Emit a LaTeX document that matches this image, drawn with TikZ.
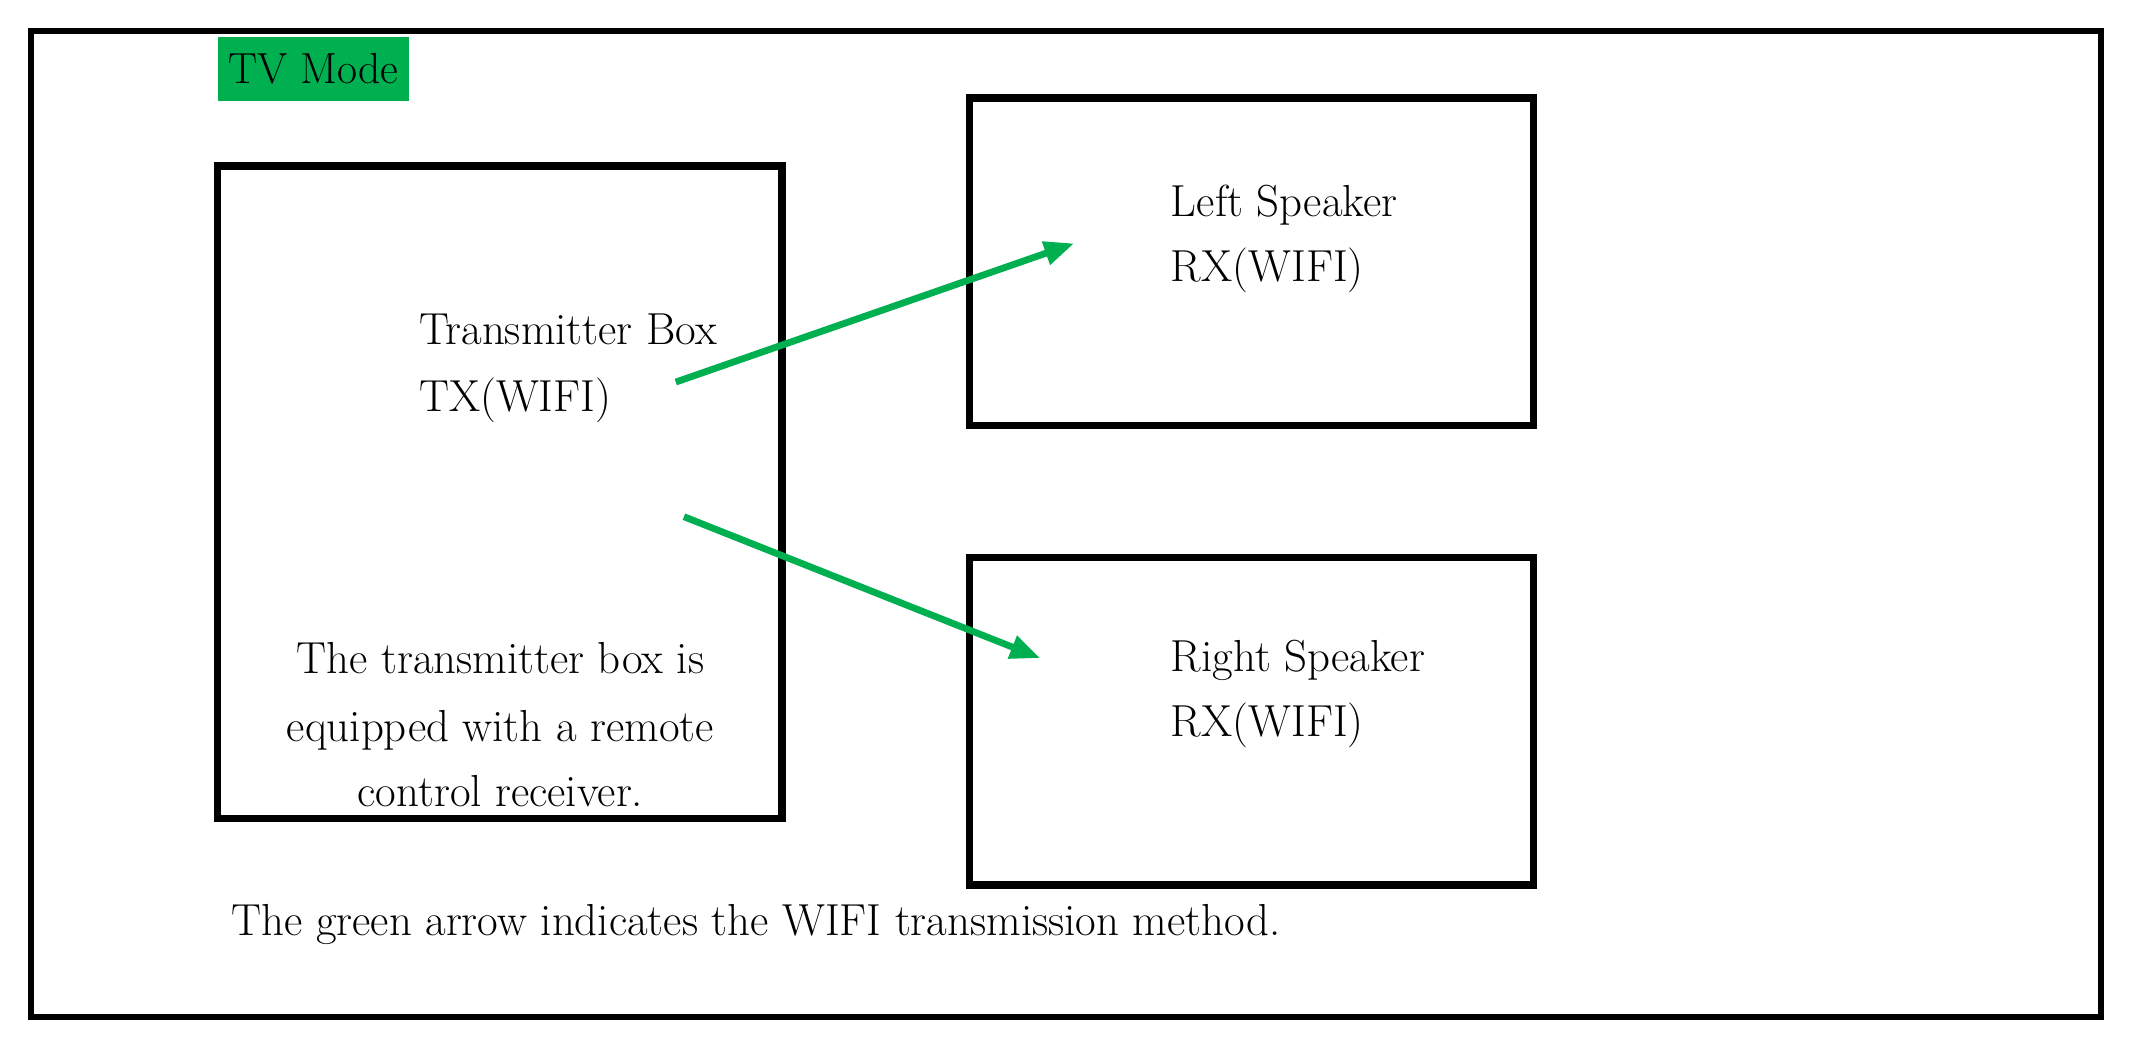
\documentclass[tikz,border=0pt]{standalone}
\usetikzlibrary{arrows.meta}
\definecolor{wifigreen}{RGB}{0,176,80}

\begin{document}
\begin{tikzpicture}[x=1pt,y=1pt,yscale=-1,
    box/.style={draw,line width=5.5pt,inner sep=0pt,minimum width=415pt},
    lbl/.style={anchor=base west,inner sep=0pt,font=\fontsize{33}{40}\selectfont},
    clbl/.style={anchor=base,inner sep=0pt,font=\fontsize{33}{40}\selectfont},
    wifi/.style={wifigreen,line width=5pt,-{Triangle[length=22pt,width=17pt]}}]
  \useasboundingbox (0,0) rectangle (1568,774);
  \draw [line width=4.5pt] (23,23) rectangle (1545,748);
  % mode tag
  \node [fill=wifigreen,inner sep=0pt,minimum width=141pt,minimum height=47pt,font=\fontsize{32}{38}\selectfont] (mode) at (230.5,50.5) {TV Mode};
  % boxes
  \node [box,minimum height=480pt] (txbox) at (367.5,362) {};
  \node [box,minimum height=241pt] (lbox) at (920.5,192.5) {};
  \node [box,minimum height=241pt] (rbox) at (920.5,530.5) {};
  % transmitter texts
  \node [lbl] (txname) at (308,253) {Transmitter Box};
  \node [lbl] (txwifi) at (308,303) {TX(WIFI)};
  \node [clbl] (txnote1) at (368,495) {The transmitter box is};
  \node [clbl] (txnote2) at (368,545) {equipped with a remote};
  \node [clbl] (txnote3) at (368,593) {control receiver.};
  % speaker texts
  \node [lbl] (lname) at (861,159) {Left Speaker};
  \node [lbl] (lwifi) at (861,207) {RX(WIFI)};
  \node [lbl] (rname) at (861,494) {Right Speaker};
  \node [lbl] (rwifi) at (861,542) {RX(WIFI)};
  % arrows
  \coordinate (txup) at (497,281);
  \coordinate (txdown) at (503,380);
  \coordinate (lin) at (790,179);
  \coordinate (rin) at (765,484);
  \draw [wifi] (txup) -- (lin);
  \draw [wifi] (txdown) -- (rin);
  \node [lbl] (note) at (170,688) {The green arrow indicates the WIFI transmission method.};
\end{tikzpicture}
\end{document}
